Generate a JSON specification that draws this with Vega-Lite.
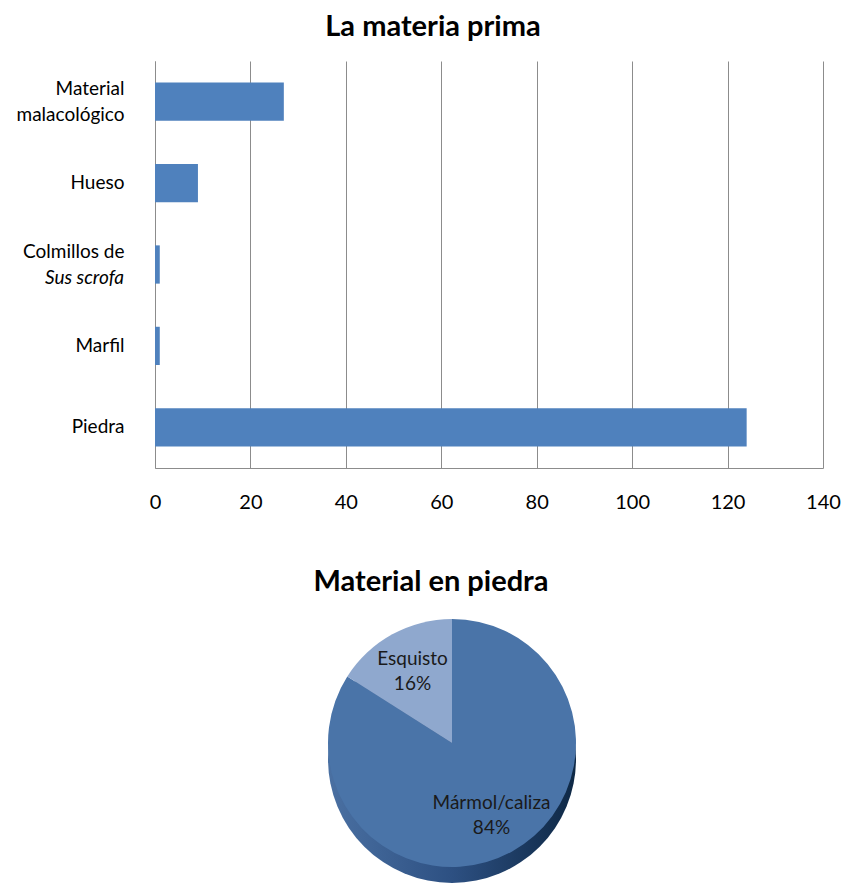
{
  "$schema": "https://vega.github.io/schema/vega-lite/v6.json",
  "padding": {"left": 0, "top": 13, "right": 0, "bottom": 0},
  "background": "white",
  "spacing": 50,
  "config": {
    "view": {"stroke": null},
    "font": "Lato",
    "title": {"font": "Lato", "fontSize": 29, "fontWeight": "bold", "color": "#000000"}
  },
  "vconcat": [
    {
      "title": {"text": "La materia prima", "dx": -56, "offset": 19},
      "width": 668,
      "height": 407,
      "data": {
        "values": [
          {"materia": "Material malacológico", "count": 27},
          {"materia": "Hueso", "count": 9},
          {"materia": "Colmillos de Sus scrofa", "count": 1},
          {"materia": "Marfil", "count": 1},
          {"materia": "Piedra", "count": 124}
        ]
      },
      "encoding": {
        "y": {
          "field": "materia",
          "type": "nominal",
          "sort": null,
          "scale": {"paddingInner": 0.53, "paddingOuter": 0.265},
          "axis": {
            "title": null,
            "labelExpr": "datum.value == 'Material malacológico' ? ['Material', 'malacológico'] : datum.value == 'Colmillos de Sus scrofa' ? 'Colmillos de' : datum.value",
            "labelOffset": {"condition": {"test": "datum.value == 'Material malacológico' || datum.value == 'Colmillos de Sus scrofa'", "value": -13}, "value": 0},
            "labelFont": "Lato",
            "labelFontSize": 19,
            "labelColor": "#000000",
            "labelPadding": 31,
            "labelLineHeight": 26,
            "ticks": false,
            "domain": true,
            "domainColor": "#8c8c8c",
            "minExtent": 155,
            "maxExtent": 155
          }
        }
      },
      "layer": [
        {
          "mark": {"type": "bar", "color": "#4F81BD"},
          "encoding": {
            "x": {
              "field": "count",
              "type": "quantitative",
              "scale": {"domain": [0, 140]},
              "axis": {
                "title": null,
                "values": [0, 20, 40, 60, 80, 100, 120, 140],
                "grid": true,
                "gridColor": "#8c8c8c",
                "domainColor": "#8c8c8c",
                "ticks": false,
                "labelFont": "Lato",
                "labelFontSize": 20,
                "labelColor": "#000000",
                "labelPadding": 24,
                "labelFlush": false,
                "minExtent": 50,
                "maxExtent": 50
              }
            }
          }
        },
        {
          "transform": [{"filter": "datum.materia == 'Colmillos de Sus scrofa'"}],
          "mark": {"type": "text", "text": "Sus scrofa", "fontStyle": "italic", "align": "right", "baseline": "middle", "dx": -31, "dy": 13, "fontSize": 19, "font": "Lato", "color": "#000000"},
          "encoding": {
            "x": {"datum": 0, "type": "quantitative"}
          }
        }
      ]
    },
    {
      "title": {"text": "Material en piedra", "dx": -21, "offset": 18},
      "width": 594,
      "height": 256,
      "data": {
        "values": [
          {"material": "Mármol/caliza", "share": 0.84},
          {"material": "Esquisto", "share": 0.16}
        ]
      },
      "layer": [
        {
          "transform": [{"aggregate": [{"op": "sum", "field": "share", "as": "total"}]}],
          "mark": {
            "type": "arc",
            "outerRadius": 124,
            "yOffset": 16,
            "color": {
              "gradient": "linear",
              "x1": 0, "x2": 1, "y1": 0, "y2": 0,
              "stops": [
                {"offset": 0, "color": "#4A70A2"},
                {"offset": 0.5, "color": "#2D5082"},
                {"offset": 1, "color": "#0E2845"}
              ]
            }
          },
          "encoding": {"theta": {"field": "total", "type": "quantitative"}}
        },
        {
          "mark": {"type": "arc", "outerRadius": 124},
          "encoding": {
            "theta": {"field": "share", "type": "quantitative", "stack": true},
            "order": {"field": "share", "type": "quantitative", "sort": "descending"},
            "color": {
              "field": "material",
              "type": "nominal",
              "scale": {"domain": ["Mármol/caliza", "Esquisto"], "range": ["#4A74A8", "#8FA8CE"]},
              "legend": null
            }
          }
        },
        {
          "mark": {"type": "text", "radius": 82, "fontSize": 19, "dy": -12, "color": "#1a1a1a", "font": "Lato"},
          "encoding": {
            "theta": {"field": "share", "type": "quantitative", "stack": true},
            "order": {"field": "share", "type": "quantitative", "sort": "descending"},
            "text": {"field": "material", "type": "nominal"}
          }
        },
        {
          "mark": {"type": "text", "radius": 82, "fontSize": 19, "dy": 13, "color": "#1a1a1a", "font": "Lato"},
          "encoding": {
            "theta": {"field": "share", "type": "quantitative", "stack": true},
            "order": {"field": "share", "type": "quantitative", "sort": "descending"},
            "text": {"field": "share", "type": "quantitative", "format": ".0%"}
          }
        }
      ]
    }
  ]
}
